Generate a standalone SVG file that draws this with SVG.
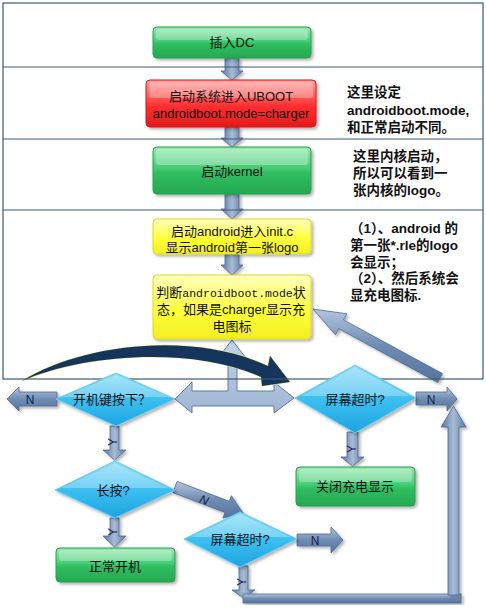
<svg xmlns="http://www.w3.org/2000/svg" width="486" height="608" viewBox="0 0 486 608">
<defs>
<linearGradient id="gGreen" x1="0" y1="0" x2="0" y2="1"><stop offset="0" stop-color="#9be9b2"/><stop offset="0.45" stop-color="#45cc74"/><stop offset="0.55" stop-color="#30bd60"/><stop offset="1" stop-color="#26a852"/></linearGradient>
<linearGradient id="gRed" x1="0" y1="0" x2="0" y2="1"><stop offset="0" stop-color="#ffa0a0"/><stop offset="0.45" stop-color="#ff4545"/><stop offset="0.55" stop-color="#fb2f2f"/><stop offset="1" stop-color="#e51b1b"/></linearGradient>
<linearGradient id="gYellow" x1="0" y1="0" x2="0" y2="1"><stop offset="0" stop-color="#ffffc0"/><stop offset="0.45" stop-color="#ffff55"/><stop offset="0.55" stop-color="#ffff3a"/><stop offset="1" stop-color="#f2ee22"/></linearGradient>
<linearGradient id="gDia" x1="0" y1="0" x2="0" y2="1"><stop offset="0" stop-color="#8adcf8"/><stop offset="0.5" stop-color="#3cbff0"/><stop offset="1" stop-color="#1ea4e0"/></linearGradient>
<linearGradient id="gArrV" x1="0" y1="0" x2="1" y2="0"><stop offset="0" stop-color="#56749f"/><stop offset="0.5" stop-color="#a8bbd5"/><stop offset="1" stop-color="#5a78a2"/></linearGradient>
<linearGradient id="gArrH" x1="0" y1="0" x2="0" y2="1"><stop offset="0" stop-color="#b4c5dc"/><stop offset="0.5" stop-color="#6f8cb3"/><stop offset="1" stop-color="#55739e"/></linearGradient>
<linearGradient id="gBig" x1="0" y1="0" x2="0" y2="1"><stop offset="0" stop-color="#c4d3e8"/><stop offset="1" stop-color="#9fb5d4"/></linearGradient>
<filter id="sh" x="-20%" y="-20%" width="140%" height="140%"><feDropShadow dx="2" dy="2" stdDeviation="1.5" flood-color="#000" flood-opacity="0.3"/></filter>
</defs>
<style>
.frame{fill:none;stroke:#3e5a70;stroke-width:1.2}
.box{stroke-width:1;filter:url(#sh)}
.green{fill:url(#gGreen);stroke:#22a04c}
.red{fill:url(#gRed);stroke:#d01c1c}
.yellow{fill:url(#gYellow);stroke:#dcd826}
.dia{fill:url(#gDia);stroke:#6ccbf0;stroke-width:1;filter:url(#sh)}
.hl{fill:#fff;opacity:0.28}
.t{font-family:"Liberation Sans","Noto Sans CJK SC",sans-serif;font-size:13px;fill:#111;text-anchor:middle}
.mono{font-family:"Liberation Mono","Noto Sans CJK SC",monospace;font-size:11.5px}
.note{font-family:"Liberation Sans","Noto Sans CJK SC",sans-serif;font-size:13.5px;font-weight:bold;fill:#111}
.av{fill:url(#gArrV);stroke:#4d6a94;stroke-width:0.8;filter:url(#sh)}
.ah{fill:url(#gArrH);stroke:#4d6a94;stroke-width:0.8;filter:url(#sh)}
.big{fill:url(#gBig);stroke:#5a7aa5;stroke-width:1}
.lbl{font-family:"Liberation Sans",sans-serif;font-size:12px;fill:#10204a;text-anchor:middle}
.curve{fill:#16355c;stroke:#eeee70;stroke-width:1.2;stroke-linejoin:round;paint-order:stroke}
</style>

<g id="connectors">
  <path class="av" d="M225,58 L239,58 L239,71 L243,71 L232,80 L221,71 L225,71 Z"/>
  <path class="av" d="M225,127 L239,127 L239,138 L243,138 L232,147 L221,138 L225,138 Z"/>
  <path class="av" d="M225,194 L239,194 L239,209 L243,209 L232,219 L221,209 L225,209 Z"/>
  <path class="av" d="M225,254 L239,254 L239,265 L243,265 L232,275 L221,265 L225,265 Z"/>

  <path class="big" d="M175,399 L192,382 L192,391 L228,391 L228,358 L218,358 L232,340 L246,358 L237,358 L237,391 L274,391 L274,382 L294,398 L274,413 L274,406 L192,406 L192,413 Z"/>

  <path class="curve" d="M22,381 C80,345 190,330 268,366 L270,356 L290,382 L262,386 L261,377 C190,345 80,355 22,381 Z"/>

  <path class="ah" d="M442.4,373.6 L343.5,319.9 L346.8,313.8 L313,309 L335.4,334.8 L338.7,328.7 L437.6,382.4 Z"/>

  <path class="ah" d="M57,392 L19,392 L19,387 L7,399 L19,411 L19,406 L57,406 Z"/>
  <text class="lbl" x="30" y="404">N</text>

  <path class="ah" d="M416,392 L447,392 L447,387 L457,399 L447,411 L447,405 L416,405 Z"/>
  <text class="lbl" x="431" y="404">N</text>

  <path class="av" d="M110,426 L119,426 L119,450 L126,450 L114.5,460 L103,450 L110,450 Z"/>
  <text class="lbl" transform="translate(113,442) rotate(-90)" y="4" font-size="11">Y</text>

  <path class="av" d="M110,518 L119,518 L119,536 L126,536 L114.5,547 L103,536 L110,536 Z"/>
  <text class="lbl" transform="translate(113,532) rotate(-90)" y="4" font-size="11">Y</text>

  <path class="av" d="M347,432 L358,432 L358,457 L364,457 L352.5,466 L341,457 L347,457 Z"/>
  <text class="lbl" transform="translate(352,449) rotate(-90)" y="4" font-size="11">Y</text>

  <path class="av" d="M239,566 L248,566 L248,590 L255,590 L243.5,598 L232,590 L239,590 Z"/>
  <text class="lbl" transform="translate(242,582) rotate(-90)" y="4" font-size="11">Y</text>

  <path class="ah" d="M177.1,481.4 L229.2,501.3 L231.4,495.7 L243,513 L222.8,518.1 L225,512.5 L172.9,492.6 Z"/>
  <text class="lbl" transform="translate(204,500) rotate(21)" y="4" font-style="italic">N</text>

  <path class="ah" d="M297,534 L331,534 L331,527 L343,540 L331,553 L331,546 L297,546 Z"/>
  <text class="lbl" x="315" y="545">N</text>

  <rect class="ah" x="243" y="594" width="218" height="9"/>
  <path class="av" d="M448,595 L448,427 L441,427 L453.5,406 L466,427 L459,427 L459,595 Z"/>
</g>

<g id="frame">
  <rect class="frame" x="3" y="3" width="480" height="376"/>
  <line class="frame" x1="3" y1="67" x2="483" y2="67"/>
  <line class="frame" x1="3" y1="139" x2="483" y2="139"/>
  <line class="frame" x1="3" y1="210" x2="483" y2="210"/>
</g>

<g id="n-dc">
  <rect class="box green" x="153" y="27" width="158" height="31" rx="4"/>
  <rect class="hl" x="156" y="29" width="152" height="11" rx="3"/>
  <text class="t" x="232" y="47">插入DC</text>
</g>
<g id="n-uboot">
  <rect class="box red" x="146" y="80" width="170" height="47" rx="4"/>
  <rect class="hl" x="149" y="82" width="164" height="16" rx="3"/>
  <text class="t" x="231" y="101">启动系统进入UBOOT</text>
  <text class="t" x="231" y="118">androidboot.mode=charger</text>
</g>
<g id="n-kernel">
  <rect class="box green" x="153" y="147" width="158" height="47" rx="4"/>
  <rect class="hl" x="156" y="149" width="152" height="16" rx="3"/>
  <text class="t" x="232" y="176">启动kernel</text>
</g>
<g id="n-init">
  <rect class="box yellow" x="153" y="219" width="158" height="35" rx="4"/>
  <text class="t" x="232" y="236">启动android进入init.c</text>
  <text class="t" x="232" y="252">显示android第一张logo</text>
</g>
<g id="n-judge">
  <rect class="box yellow" x="153" y="275" width="158" height="64" rx="4"/>
  <text class="t" x="231" y="297">判断<tspan class="mono">androidboot.mode</tspan>状</text>
  <text class="t" x="231" y="314">态，如果是charger显示充</text>
  <text class="t" x="232" y="331">电图标</text>
</g>

<g id="note1">
  <text class="note" x="347" y="97">这里设定</text>
  <text class="note" x="347" y="115">androidboot.mode,</text>
  <text class="note" x="347" y="132">和正常启动不同。</text>
</g>
<g id="note2">
  <text class="note" x="353" y="161">这里内核启动，</text>
  <text class="note" x="353" y="178">所以可以看到一</text>
  <text class="note" x="353" y="195">张内核的logo。</text>
</g>
<g id="note3">
  <text class="note" x="350" y="233">（1）、android 的</text>
  <text class="note" x="350" y="250">第一张*.rle的logo</text>
  <text class="note" x="350" y="267">会显示；</text>
  <text class="note" x="350" y="283">（2）、然后系统会</text>
  <text class="note" x="350" y="300">显充电图标.</text>
</g>

<g id="d-power">
  <path class="dia" d="M56,399 L116,373 L175,399 L116,426 Z"/>
  <path class="hl" d="M62,397 L116,375 L170,397 Z"/>
  <text class="t" x="112" y="404">开机键按下？</text>
</g>
<g id="d-timeout1">
  <path class="dia" d="M295,398 L355,365 L416,398 L355,433 Z"/>
  <path class="hl" d="M301,396 L355,367 L410,396 Z"/>
  <text class="t" x="355" y="404">屏幕超时?</text>
</g>
<g id="d-long">
  <path class="dia" d="M55,490 L115,461 L175,490 L115,518 Z"/>
  <path class="hl" d="M61,488 L115,463 L169,488 Z"/>
  <text class="t" x="113" y="495">长按?</text>
</g>
<g id="d-timeout2">
  <path class="dia" d="M184,539 L240,512 L297,539 L240,567 Z"/>
  <path class="hl" d="M190,537 L240,514 L291,537 Z"/>
  <text class="t" x="240" y="544">屏幕超时?</text>
</g>
<g id="n-close">
  <rect class="box green" x="296" y="467" width="119" height="39" rx="4"/>
  <rect class="hl" x="299" y="469" width="113" height="13" rx="3"/>
  <text class="t" x="355" y="491">关闭充电显示</text>
</g>
<g id="n-normal">
  <rect class="box green" x="56" y="548" width="119" height="34" rx="4"/>
  <rect class="hl" x="59" y="550" width="113" height="11" rx="3"/>
  <text class="t" x="115" y="571">正常开机</text>
</g>
</svg>
